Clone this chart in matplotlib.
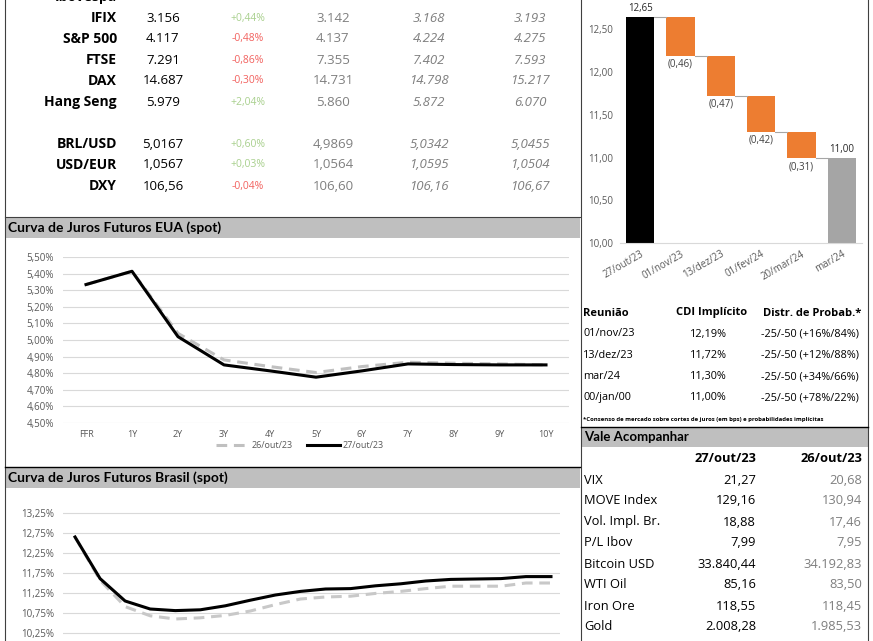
import numpy as np
import matplotlib.pyplot as plt
from matplotlib.patches import Rectangle
from matplotlib.lines import Line2D
from matplotlib.ticker import FuncFormatter

W, H = 873, 641
plt.rcParams["font.family"] = ["Open Sans", "DejaVu Sans"]

# ── data ────────────────────────────────────────────────────────────────────
mkt_names = ["Ibovespa", "IFIX", "S&P 500", "FTSE", "DAX", "Hang Seng",
             "BRL/USD", "USD/EUR", "DXY"]
mkt_slot = [0, 1, 2, 3, 4, 5, 7, 8, 9]
mkt_last = ["113.301", "3.156", "4.117", "7.291", "14.687", "5.979",
            "5,0167", "1,0567", "106,56"]
mkt_chg = ["-1,29%", "+0,44%", "-0,48%", "-0,86%", "-0,30%", "+2,04%",
           "+0,60%", "+0,03%", "-0,04%"]
mkt_prev = ["114.777", "3.142", "4.137", "7.355", "14.731", "5.860",
            "4,9869", "1,0564", "106,60"]
mkt_week = ["115.135", "3.168", "4.224", "7.402", "14.798", "5.872",
            "5,0342", "1,0595", "106,16"]
mkt_month = ["114.327", "3.193", "4.275", "7.593", "15.217", "6.070",
             "5,0455", "1,0504", "106,67"]

us_tenors = ["FFR", "1Y", "2Y", "3Y", "4Y", "5Y", "6Y", "7Y", "8Y", "9Y", "10Y"]
us_prev = [5.334, 5.414, 5.04, 4.88, 4.84, 4.804, 4.84, 4.866, 4.86, 4.856, 4.85]
us_last = [5.334, 5.414, 5.02, 4.85, 4.814, 4.776, 4.814, 4.856, 4.852, 4.85, 4.85]
curve_dates = ["26/out/23", "27/out/23"]

br_vertex = list(range(20))
br_prev = [12.65, 11.57, 10.91, 10.68, 10.60, 10.63, 10.69, 10.80, 10.96, 11.10,
           11.15, 11.17, 11.24, 11.29, 11.36, 11.42, 11.42, 11.42, 11.50, 11.50]
br_last = [12.65, 11.61, 11.05, 10.85, 10.81, 10.83, 10.93, 11.07, 11.20, 11.29,
           11.35, 11.36, 11.43, 11.48, 11.55, 11.59, 11.60, 11.61, 11.66, 11.66]

wf_labels = ["27/out/23", "01/nov/23", "13/dez/23", "01/fev/24", "20/mar/24", "mar/24"]
wf_open = 12.65
wf_moves = [-0.46, -0.47, -0.42, -0.31]
wf_close = 11.00

copom_dates = ["01/nov/23", "13/dez/23", "mar/24", "00/jan/00"]
copom_cdi = ["12,19%", "11,72%", "11,30%", "11,00%"]
copom_dist = ["-25/-50 (+16%/84%)", "-25/-50 (+12%/88%)",
              "-25/-50 (+34%/66%)", "-25/-50 (+78%/22%)"]

watch_names = ["VIX", "MOVE Index", "Vol. Impl. Br.", "P/L Ibov", "Bitcoin USD",
               "WTI Oil", "Iron Ore", "Gold"]
watch_today = ["21,27", "129,16", "18,88", "7,99", "33.840,44", "85,16",
               "118,55", "2.008,28"]
watch_prev = ["20,68", "130,94", "17,46", "7,95", "34.192,83", "83,50",
              "118,45", "1.985,53"]

# ── colours ─────────────────────────────────────────────────────────────────
HEAD = "#bfbfbf"
GRID = "#d9d9d9"
TICK = "#595959"
DIM = "#7f7f7f"
ORANGE = "#ed7d31"
GREEN = "#a9d08e"
RED = "#f2625f"


def comma(v, nd=2, pct=False):
    s = f"{v:.{nd}f}".replace(".", ",")
    return s + "%" if pct else s


def px_axes(fig, x0, y0, x1, y1, **kw):
    return fig.add_axes([x0 / W, 1 - y1 / H, (x1 - x0) / W, (y1 - y0) / H], **kw)


fig = plt.figure(figsize=(W / 100, H / 100), dpi=100)

# background canvas in pixel units (borders, header bars, table text)
bg = fig.add_axes([0, 0, 1, 1], zorder=0)
bg.set_xlim(0, W)
bg.set_ylim(H, 0)
bg.axis("off")

for x0, y0, x1, y1 in [(5, 217, 580, 238), (5, 467, 580, 488), (581, 427, 868, 447)]:
    bg.add_patch(Rectangle((x0, y0), x1 - x0, y1 - y0, color=HEAD, lw=0))
bg.plot([5, 5], [0, H], color="#404040", lw=0.8)
bg.plot([580.5, 580.5], [0, H], color="#404040", lw=0.8)
bg.plot([868, 868], [0, H], color="#404040", lw=0.8)
bg.plot([5, 580], [217, 217], color="#404040", lw=0.8)
bg.plot([5, 580], [467, 467], color="black", lw=1.0)
bg.plot([581, 868], [427, 427], color="black", lw=1.0)

# ── market table ────────────────────────────────────────────────────────────
for i, slot in enumerate(mkt_slot):
    y = -3 + 21 * slot
    bg.text(117, y, mkt_names[i], ha="right", va="center", fontsize=10,
            fontweight="bold", color="black")
    bg.text(163, y, mkt_last[i], ha="center", va="center", fontsize=9.5, color="black")
    c = GREEN if mkt_chg[i].startswith("+") else RED
    bg.text(248, y, mkt_chg[i], ha="center", va="center", fontsize=7.5, color=c)
    bg.text(333, y, mkt_prev[i], ha="center", va="center", fontsize=9.5, color=DIM)
    bg.text(429, y, mkt_week[i], ha="center", va="center", fontsize=9.5,
            color=DIM, style="italic")
    bg.text(530, y, mkt_month[i], ha="center", va="center", fontsize=9.5,
            color=DIM, style="italic")

# ── section titles ──────────────────────────────────────────────────────────
bg.text(8, 228, "Curva de Juros Futuros EUA (spot)", ha="left", va="center",
        fontsize=10, fontweight="bold", family=["Lato", "DejaVu Sans"])
bg.text(8, 478, "Curva de Juros Futuros Brasil (spot)", ha="left", va="center",
        fontsize=10, fontweight="bold", family=["Lato", "DejaVu Sans"])
bg.text(584, 437, "Vale Acompanhar", ha="left", va="center",
        fontsize=9.5, fontweight="bold", family=["Lato", "DejaVu Sans"])


def style_curve_axes(ax):
    ax.set_facecolor("none")
    for s in ax.spines.values():
        s.set_visible(False)
    ax.grid(axis="y", color=GRID, lw=0.8)
    ax.set_axisbelow(True)
    ax.tick_params(length=0, colors=TICK, labelsize=7)


# ── US curve ────────────────────────────────────────────────────────────────
ax_us = px_axes(fig, 63, 257, 569, 423)
style_curve_axes(ax_us)
xs = np.arange(len(us_tenors))
ax_us.plot(xs, us_prev, color="#c0c0c0", lw=2.2, dashes=(3.5, 2.2),
           solid_capstyle="butt")
ax_us.plot(xs, us_last, color="black", lw=2.2)
ax_us.set_xlim(-0.5, len(us_tenors) - 0.5)
ax_us.set_ylim(4.5, 5.5)
ax_us.set_yticks(np.arange(4.5, 5.501, 0.1))
ax_us.yaxis.set_major_formatter(FuncFormatter(lambda v, p: comma(v, pct=True)))
ax_us.set_xticks(xs)
ax_us.set_xticklabels(us_tenors, fontsize=6.5)
ax_us.tick_params(axis="y", pad=6.5)
ax_us.tick_params(axis="x", pad=5)
handles = [Line2D([], [], color="#c0c0c0", lw=2.2, dashes=(3.5, 2.2)),
           Line2D([], [], color="black", lw=2.2)]
ax_us.legend(handles, curve_dates, loc="center", ncol=2, frameon=False,
             bbox_to_anchor=(300 / W, 1 - 446 / H), bbox_transform=fig.transFigure,
             fontsize=6.5, labelcolor=TICK, handlelength=3.6, handletextpad=0.3,
             columnspacing=1.6)

# ── Brazil curve ────────────────────────────────────────────────────────────
ax_br = px_axes(fig, 63, 503, 560, 653)
style_curve_axes(ax_br)
ax_br.plot(br_vertex, br_prev, color="#c8c8c8", lw=2.2, dashes=(3.5, 2.2))
ax_br.plot(br_vertex, br_last, color="black", lw=2.2)
ax_br.set_xlim(-0.48, 19.36)
ax_br.set_ylim(9.75, 13.5)
ax_br.set_yticks(np.arange(10.25, 13.251, 0.5))
ax_br.yaxis.set_major_formatter(FuncFormatter(lambda v, p: comma(v, pct=True)))
ax_br.set_xticks([])
ax_br.tick_params(axis="y", pad=6.5)

# ── Selic waterfall ─────────────────────────────────────────────────────────
ax_wf = px_axes(fig, 620, 0, 862, 243)
ax_wf.set_facecolor("none")
levels = wf_open + np.cumsum(wf_moves)
n = len(wf_labels)
bw = 0.7
ax_wf.bar(0, wf_open, width=bw, color="black")
ax_wf.bar(np.arange(1, n - 1), -np.array(wf_moves), bottom=levels,
          width=bw, color=ORANGE)
ax_wf.bar(n - 1, wf_close, width=bw, color="#a5a5a5")
steps = np.concatenate([[wf_open], levels])
for i, lv in enumerate(steps):
    ax_wf.plot([i + bw / 2, i + 1 - bw / 2], [lv, lv], color="#a6a6a6", lw=0.8)
ax_wf.text(0, wf_open + 0.03, comma(wf_open), ha="center", va="bottom",
           fontsize=7, color="#262626")
for i, (mv, lv) in enumerate(zip(wf_moves, levels)):
    ax_wf.text(i + 1, lv - 0.03, f"({comma(-mv)})", ha="center", va="top",
               fontsize=7, color="#404040")
ax_wf.text(n - 1, wf_close + 0.03, comma(wf_close), ha="center", va="bottom",
           fontsize=7, color="#262626")
ax_wf.set_xlim(-0.5, n - 0.5)
ax_wf.set_ylim(10.0, 12.845)
ax_wf.set_yticks(np.arange(10.0, 12.51, 0.5))
ax_wf.yaxis.set_major_formatter(FuncFormatter(lambda v, p: comma(v)))
ax_wf.set_xticks(np.arange(n))
ax_wf.set_xticklabels(wf_labels, rotation=30, ha="right", rotation_mode="anchor")
for s in ["top", "right", "left"]:
    ax_wf.spines[s].set_visible(False)
ax_wf.spines["bottom"].set_color(GRID)
ax_wf.tick_params(length=0, colors=TICK, labelsize=7)
ax_wf.tick_params(axis="y", pad=5)
ax_wf.tick_params(axis="x", pad=4)

# ── Copom table ─────────────────────────────────────────────────────────────
bg.text(583, 313, "Reunião", ha="left", va="center", fontsize=8, fontweight="bold")
bg.text(712, 313, "CDI Implícito", ha="center", va="center", fontsize=8,
        fontweight="bold")
bg.text(861, 313, "Distr. de Probab.*", ha="right", va="center", fontsize=8,
        fontweight="bold")
for i in range(len(copom_dates)):
    y = 334 + 21.3 * i
    bg.text(583, y, copom_dates[i], ha="left", va="center", fontsize=7.8)
    bg.text(708, y, copom_cdi[i], ha="center", va="center", fontsize=7.8)
    bg.text(859, y, copom_dist[i], ha="right", va="center", fontsize=7.8)
bg.text(583, 419, "*Consenso de mercado sobre cortes de juros (em bps) e "
        "probabilidades implícitas", ha="left", va="center", fontsize=4.3,
        fontweight="bold")

# ── watch list ──────────────────────────────────────────────────────────────
bg.text(756, 459, "27/out/23", ha="right", va="center", fontsize=9.3,
        fontweight="bold")
bg.text(862, 459, "26/out/23", ha="right", va="center", fontsize=9.3,
        fontweight="bold")
for i in range(len(watch_names)):
    y = 480 + 21 * i
    bg.text(584, y, watch_names[i], ha="left", va="center", fontsize=9.3)
    bg.text(756, y, watch_today[i], ha="right", va="center", fontsize=9.3)
    bg.text(862, y, watch_prev[i], ha="right", va="center", fontsize=9.3, color=DIM)

fig.savefig("out.png", dpi=100)
